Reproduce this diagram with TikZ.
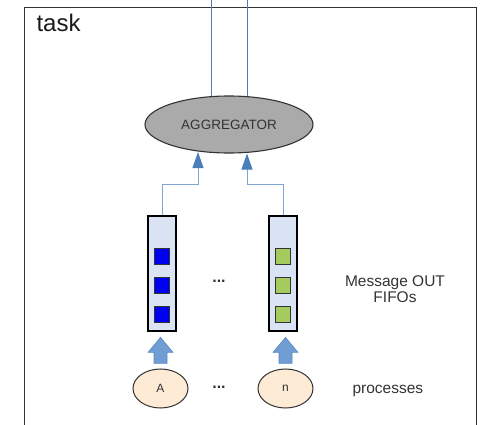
\documentclass[tikz,border=0pt]{standalone}
\usepackage{fontspec}
\setmainfont{Liberation Sans}
\usetikzlibrary{shapes.geometric,arrows.meta,calc}

\definecolor{txt}{HTML}{333333}
\definecolor{wire}{HTML}{4A7EBB}
\definecolor{wirelight}{HTML}{7FA5D6}
\definecolor{aggfill}{HTML}{AAAAAA}
\definecolor{fifofill}{HTML}{DAE3F3}
\definecolor{msgblue}{HTML}{0000F0}
\definecolor{msggreen}{HTML}{A5CB5E}
\definecolor{procfill}{HTML}{FDEBD5}
\definecolor{blockfill}{HTML}{6F9DD4}
\definecolor{blockedge}{HTML}{5B87C0}

\tikzset{
  aggnode/.style={ellipse, draw=txt, line width=1.1pt, fill=aggfill,
    minimum width=168pt, minimum height=57pt, inner sep=0pt,
    text=txt, font=\fontsize{13.5}{15}\selectfont},
  fifo/.style={rectangle, draw=black, line width=2.6pt, fill=fifofill,
    minimum width=28pt, minimum height=115pt, inner sep=0pt},
  msg/.style={rectangle, draw=txt, line width=0.9pt,
    minimum width=15pt, minimum height=16pt, inner sep=0pt},
  procnode/.style={ellipse, draw=txt, line width=1pt, fill=procfill,
    minimum width=55pt, minimum height=39pt, inner sep=0pt,
    text=txt, font=\fontsize{12}{14}\selectfont},
  label/.style={text=txt, font=\fontsize{15.5}{18}\selectfont, align=center},
  dots/.style={text=txt, font=\bfseries\fontsize{16}{18}\selectfont},
  feed/.style={draw=wirelight, line width=0.9pt,
    -{Triangle[length=16pt,width=11pt,color=wire]}},
  outwire/.style={draw=wire, line width=0.8pt},
  block/.style={fill=blockfill, draw=blockedge, line width=0.6pt}
}

\begin{document}
\begin{tikzpicture}[x=1pt,y=-1pt]
  \useasboundingbox (0,0) rectangle (480,425);
  \begin{scope}
    \clip (0,0) rectangle (480,425);
    % task frame, running past the lower edge
    \draw[line width=0.9pt, draw=black!80] (24.5,7) rectangle (476,440);
  \end{scope}
  \node[anchor=base west, font=\fontsize{24}{28}\selectfont, text=black!90] (task) at (33,32) {task};

  % aggregator
  \node[aggnode] (agg) at (229,124.5) {AGGREGATOR};

  % output wires leaving the task
  \coordinate (outL) at (211,0);
  \coordinate (outR) at (247,0);
  \draw[outwire] ($(agg.north -| outL)+(0,1)$) -- (outL);
  \draw[outwire] ($(agg.north -| outR)+(0,1)$) -- (outR);

  % message OUT FIFOs
  \node[fifo] (fA) at (162,273.5) {};
  \node[fifo] (fN) at (283,273.5) {};
  \foreach \yy [count=\i] in {256,285,314.5} {
    \node[msg, fill=msgblue] (mA\i) at (162,\yy) {};
    \node[msg, fill=msggreen] (mN\i) at (283,\yy) {};
  }
  \node[dots] (fdots) at (219,281) {...};
  \node[label] (fifolbl) at (395,289) {Message OUT\\[-2pt]FIFOs};

  % FIFOs feeding the aggregator
  \coordinate (jA) at (198,184);
  \coordinate (jN) at (247,184);
  \draw[feed] (fA.north) |- (jA) -- ($(agg.south -| jA)+(0,-1.5)$);
  \draw[feed] (fN.north) |- (jN) -- (agg.south -| jN);

  % processes
  \node[procnode] (pA) at (160.5,388.5) {A};
  \node[procnode] (pN) at (285.5,388.5) {n};
  \node[dots] (pdots) at (219,387) {...};
  \node[label, anchor=base west] (proclbl) at (349,393) {processes};

  % block arrows from processes into FIFOs
  \foreach \src/\dst in {pA/fA, pN/fN} {
    \coordinate (b\src) at ($(\src.north)!0.5!(\src.north |- \dst.south)$);
    \draw[block] (b\src) ++(-6.5,13) -- ++(0,-11) -- ++(-6,0) -- ++(12.5,-15)
      -- ++(12.5,15) -- ++(-6,0) -- ++(0,11) -- cycle;
  }
\end{tikzpicture}
\end{document}
